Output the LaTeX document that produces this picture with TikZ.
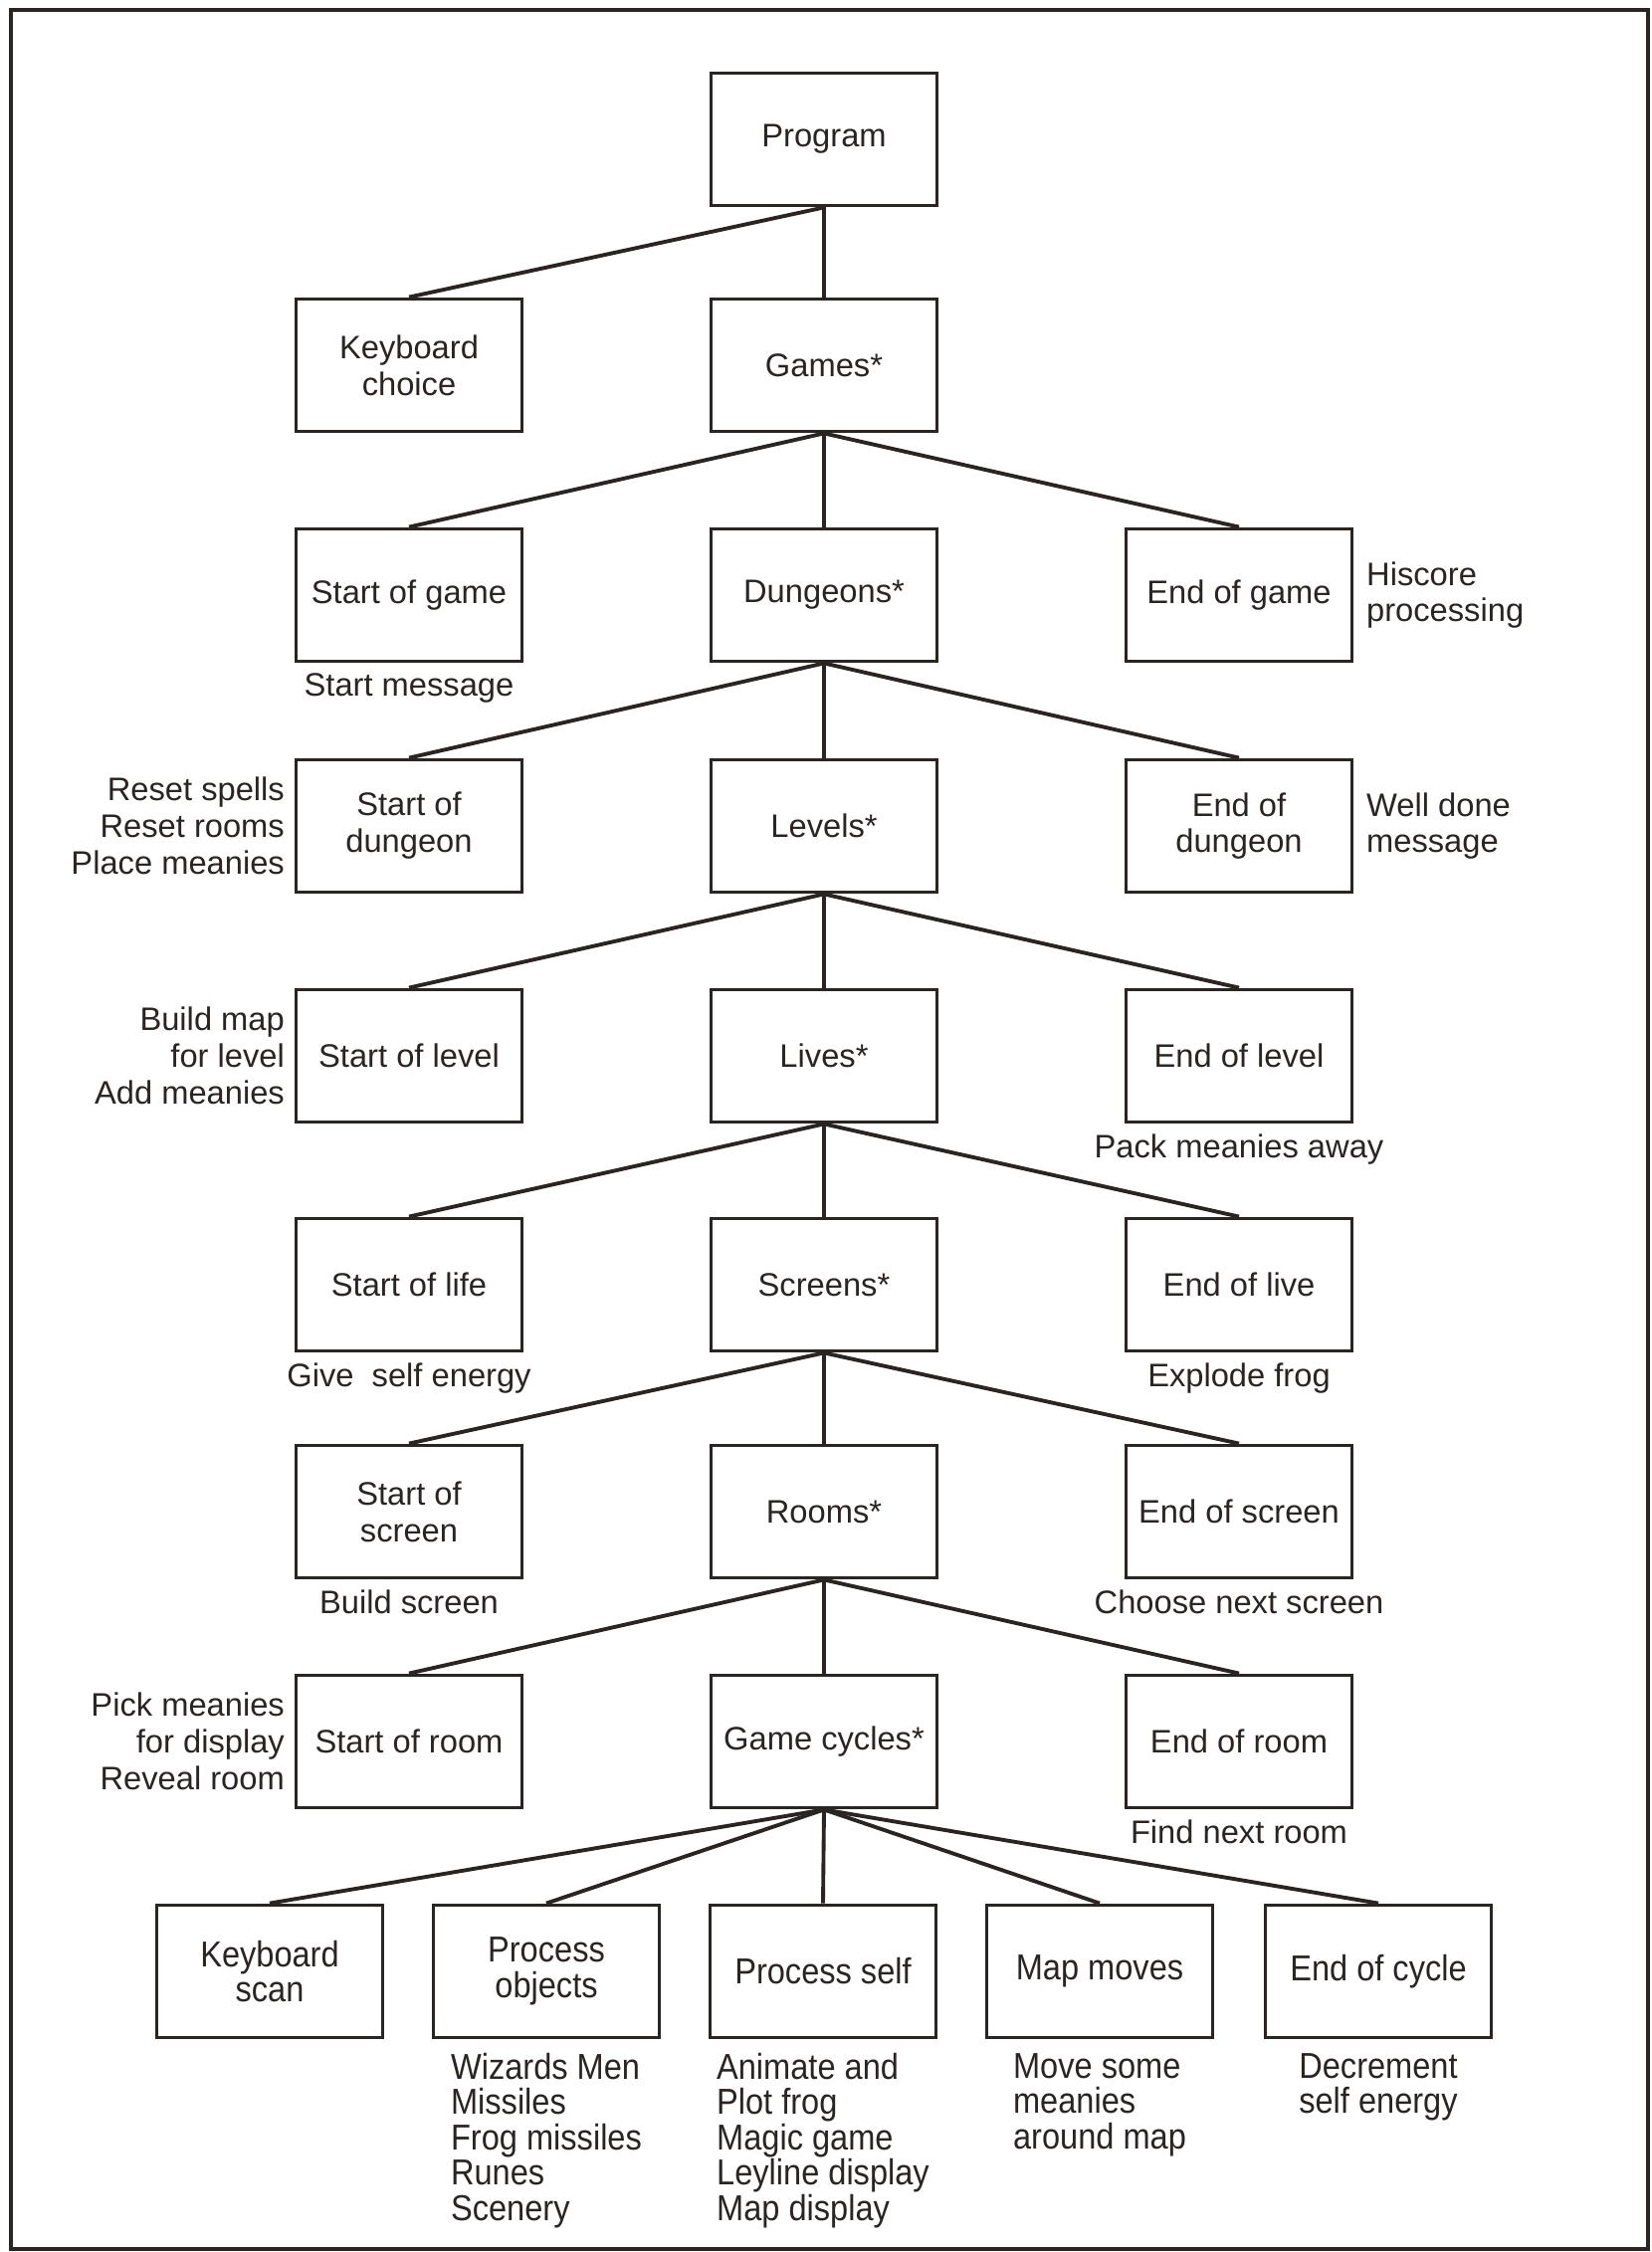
\documentclass[tikz,border=0pt]{standalone}
\usepackage{fontspec}
\setmainfont{Liberation Sans}
\newfontfamily\narrowfont[FakeStretch=0.9]{Liberation Sans}
\usetikzlibrary{positioning}
\definecolor{ink}{RGB}{42,36,34}

\begin{document}
\begin{tikzpicture}[
  color=ink,
  font=\fontsize{9.3}{10.5}\selectfont,
  box/.style={draw,line width=1.1pt,minimum width=2.27cm,minimum height=1.33cm,align=center,inner sep=1pt},
  note/.style={inner sep=0pt},
  narrow/.style={font=\narrowfont\fontsize{10.3}{10.1}\selectfont},
  link/.style={line width=1.1pt}
]
\useasboundingbox (0,0) rectangle (16.59,-22.63);
\draw[line width=0.9pt] (0.11,-0.10) rectangle (16.56,-22.60);

\node[box] (prog) at (8.28,-1.40) {Program};
\node[box] (kbc) at (4.11,-3.67) {Keyboard\\choice};
\node[box] (games) at (8.28,-3.67) {Games*};

\node[box] (sgame) at (4.11,-5.98) {Start of game};
\node[box] (dungeons) at (8.28,-5.98) {Dungeons*};
\node[box] (egame) at (12.45,-5.98) {End of game};

\node[box] (sdun) at (4.11,-8.30) {Start of\\dungeon};
\node[box] (levels) at (8.28,-8.30) {Levels*};
\node[box] (edun) at (12.45,-8.30) {End of\\dungeon};

\node[box] (slev) at (4.11,-10.61) {Start of level};
\node[box] (lives) at (8.28,-10.61) {Lives*};
\node[box] (elev) at (12.45,-10.61) {End of level};

\node[box] (slife) at (4.11,-12.91) {Start of life};
\node[box] (screens) at (8.28,-12.91) {Screens*};
\node[box] (elife) at (12.45,-12.91) {End of live};

\node[box] (sscr) at (4.11,-15.19) {Start of\\screen};
\node[box] (rooms) at (8.28,-15.19) {Rooms*};
\node[box] (escr) at (12.45,-15.19) {End of screen};

\node[box] (sroom) at (4.11,-17.50) {Start of room};
\node[box] (cycles) at (8.28,-17.50) {Game cycles*};
\node[box] (eroom) at (12.45,-17.50) {End of room};

\node[box,narrow] (kscan) at (2.71,-19.81) {Keyboard\\scan};
\node[box,narrow] (pobj) at (5.49,-19.81) {Process\\objects};
\node[box,narrow] (pself) at (8.27,-19.81) {Process self};
\node[box,narrow] (mmoves) at (11.05,-19.81) {Map moves};
\node[box,narrow] (ecycle) at (13.85,-19.81) {End of cycle};

\node[note,below=1mm of sgame] (sgamemsg) {Start message};
\node[note,right=1.2mm of egame,align=left] (egamemsg) {Hiscore\\processing};
\node[note,left=0.9mm of sdun,align=right] (sdunmsg) {Reset spells\\Reset rooms\\Place meanies};
\node[note,right=1.2mm of edun,align=left] (edunmsg) {Well done\\message};
\node[note,left=0.9mm of slev,align=right] (slevmsg) {Build map\\for level\\Add meanies};
\node[note,below=1mm of elev] (elevmsg) {Pack meanies away};
\node[note,below=1mm of slife] (slifemsg) {Give\ \ self energy};
\node[note,below=1mm of elife] (elifemsg) {Explode frog};
\node[note,below=1mm of sscr] (sscrmsg) {Build screen};
\node[note,below=1mm of escr] (escrmsg) {Choose next screen};
\node[note,left=0.9mm of sroom,align=right] (sroommsg) {Pick meanies\\for display\\Reveal room};
\node[note,below=1mm of eroom] (eroommsg) {Find next room};
\node[note,narrow,below=1.3mm of pobj,align=left] (pobjmsg) {Wizards Men\\Missiles\\Frog missiles\\Runes\\Scenery};
\node[note,narrow,below=1.3mm of pself,align=left] (pselfmsg) {Animate and\\Plot frog\\Magic game\\Leyline display\\Map display};
\node[note,narrow,below=1.3mm of mmoves,align=left] (mmovesmsg) {Move some\\meanies\\around map};
\node[note,narrow,below=1.3mm of ecycle,align=left] (ecyclemsg) {Decrement\\self energy};

\draw[link] (prog.south) -- (kbc.north);
\draw[link] (prog.south) -- (games.north);
\draw[link] (games.south) -- (sgame.north);
\draw[link] (games.south) -- (dungeons.north);
\draw[link] (games.south) -- (egame.north);
\draw[link] (dungeons.south) -- (sdun.north);
\draw[link] (dungeons.south) -- (levels.north);
\draw[link] (dungeons.south) -- (edun.north);
\draw[link] (levels.south) -- (slev.north);
\draw[link] (levels.south) -- (lives.north);
\draw[link] (levels.south) -- (elev.north);
\draw[link] (lives.south) -- (slife.north);
\draw[link] (lives.south) -- (screens.north);
\draw[link] (lives.south) -- (elife.north);
\draw[link] (screens.south) -- (sscr.north);
\draw[link] (screens.south) -- (rooms.north);
\draw[link] (screens.south) -- (escr.north);
\draw[link] (rooms.south) -- (sroom.north);
\draw[link] (rooms.south) -- (cycles.north);
\draw[link] (rooms.south) -- (eroom.north);
\draw[link] (cycles.south) -- (kscan.north);
\draw[link] (cycles.south) -- (pobj.north);
\draw[link] (cycles.south) -- (pself.north);
\draw[link] (cycles.south) -- (mmoves.north);
\draw[link] (cycles.south) -- (ecycle.north);
\end{tikzpicture}
\end{document}
